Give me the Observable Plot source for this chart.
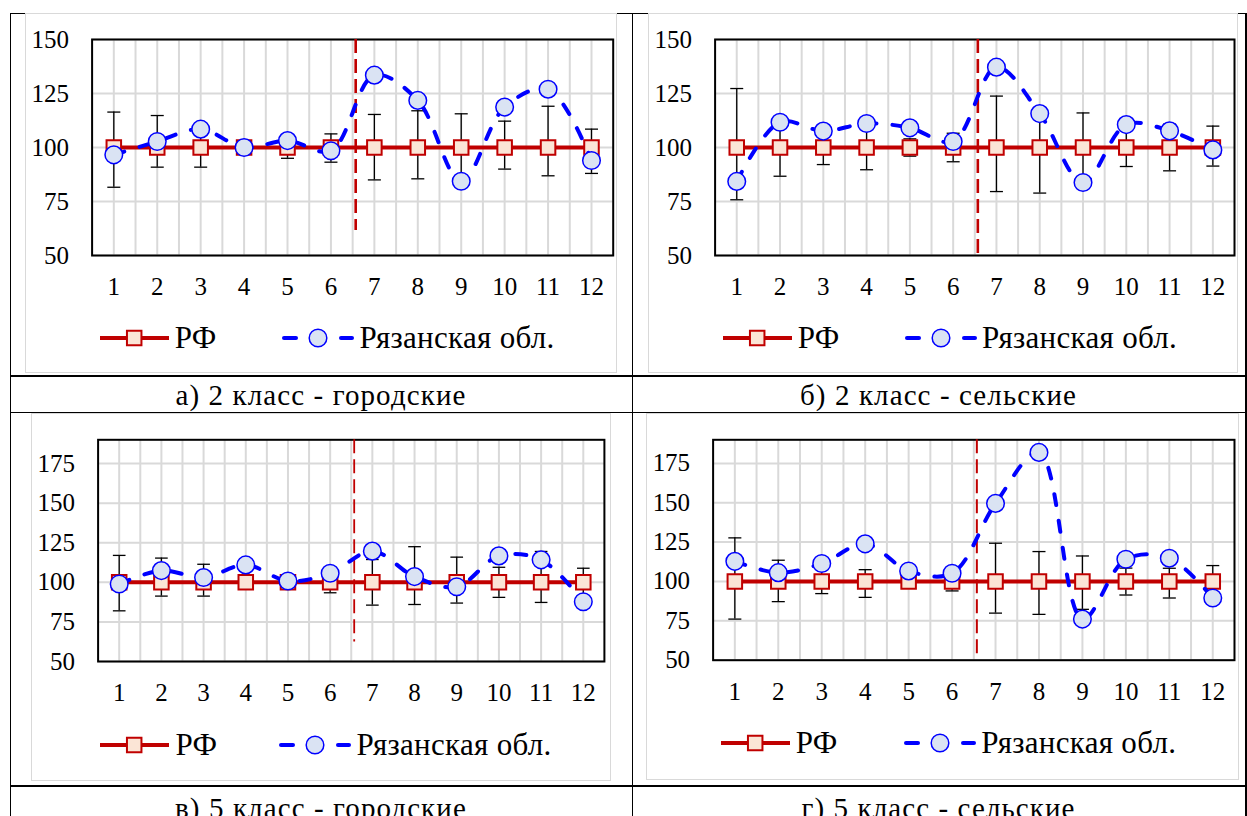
<!DOCTYPE html>
<html>
<head>
<meta charset="utf-8">
<script src="https://cdn.jsdelivr.net/npm/d3@7"></script>
<script src="https://cdn.jsdelivr.net/npm/@observablehq/plot@0.6"></script>
<style>
  body { margin: 0; background: #fff; }
  #page { position: relative; width: 1247px; height: 816px; overflow: hidden; background: #fff;
          font-family: "Liberation Serif", serif; color: #000; }
  #page * { font-family: "Liberation Serif", serif !important; }
  #page svg text { font-family: "Liberation Serif", serif !important; fill: #000; }
  .ln { position: absolute; background: #000; }
  .box { position: absolute; border: 1.5px solid #d9d9d9; box-sizing: border-box; }
  .cap { position: absolute; font-size: 29px; line-height: 29px; letter-spacing: 1.1px; text-align: center; white-space: nowrap; }
  .legtxt { position: absolute; font-size: 31px; line-height: 31px; letter-spacing: 0.3px; white-space: nowrap; }
  .sw { position: absolute; overflow: visible; }
</style>
</head>
<body>
<div id="page"></div>
<script>
// ---------- data ----------
const categories = [1, 2, 3, 4, 5, 6, 7, 8, 9, 10, 11, 12];
const rfValues   = [100, 100, 100, 100, 100, 100, 100, 100, 100, 100, 100, 100];

// а) 2 класс - городские
const regA = [96.6, 102.8, 108.5, 100, 103.2, 98.5, 133.5, 121.8, 84.4, 118.7, 127, 94];
const loA  = [81.6, 90.9, 90.9, 98, 95, 93.2, 85, 85.5, 85, 90, 86.9, 88];
const hiA  = [116.4, 114.8, 109, 102, 105, 106.3, 115.3, 117, 115.6, 112.2, 119.1, 108.5];

// б) 2 класс - сельские
const regB = [84.3, 111.7, 107.6, 111.1, 109.1, 102.8, 137.2, 115.7, 83.8, 110.6, 107.7, 98.9];
const loB  = [75.8, 86.7, 92.1, 89.7, 96, 93.4, 79.6, 78.9, 84, 91.2, 89.2, 91.4];
const hiB  = [127.3, 113.3, 108, 110.3, 104, 106.6, 123.8, 118, 116, 108.8, 110.8, 109.9];

// в) 5 класс - городские
const regC = [98.9, 107.4, 103, 111, 100.8, 105.7, 119.7, 103.6, 97.2, 116.7, 114.2, 87.7];
const loC  = [82, 91.3, 91.3, 97, 98, 93.4, 85.6, 86, 86.9, 90.5, 87.3, 91];
const hiC  = [117, 115.3, 111.4, 103, 102, 106.6, 114.4, 122.5, 115.9, 109.5, 119.5, 108.9];

// г) 5 класс - сельские
const regD = [112.8, 105.6, 111.4, 123.9, 106.7, 105.2, 149.6, 182, 76.1, 114.1, 114.8, 89.5];
const loD  = [76.1, 87.2, 92.3, 89.9, 97, 94, 79.9, 79.1, 82.3, 91.4, 89.5, 90];
const hiD  = [127.7, 113.5, 107.7, 107.5, 103, 106, 124.3, 119, 116.2, 108.5, 108.4, 110.1];

const yTicks2 = [50, 75, 100, 125, 150];
const yTicks5 = [50, 75, 100, 125, 150, 175];
const yDomain2 = [50, 150];
const yDomain5 = [50, 190];

const dividerX = 6.57;                      // position of the red dashed separator
const dividerEnd = [61.6, 50, 62.3, 54];    // lower end of the separator per panel

const captions = ["а) 2 класс - городские", "б) 2 класс - сельские", "в) 5 класс - городские", "г) 5 класс - сельские"];
const seriesNames = ["РФ", "Рязанская обл."];

// ---------- layout ----------
const page = document.getElementById("page");
function el(cls, css, html) {
  const d = document.createElement("div");
  d.className = cls;
  Object.assign(d.style, css);
  if (html != null) d.textContent = html;
  page.appendChild(d);
  return d;
}

// table borders
el("ln", {left: "10px", top: "12.5px", width: "1236px", height: "1.5px"});
el("ln", {left: "9.5px", top: "12.5px", width: "1.5px", height: "810px"});
el("ln", {left: "631.5px", top: "12.5px", width: "1.5px", height: "810px"});
el("ln", {left: "1244.5px", top: "12.5px", width: "2px", height: "810px"});
el("ln", {left: "10px", top: "375px", width: "1237px", height: "2px"});
el("ln", {left: "10px", top: "411.5px", width: "1237px", height: "1.5px"});
el("ln", {left: "10px", top: "785px", width: "1237px", height: "2px"});

const panels = [
  {box: [25, 13, 592, 360], plot: [91.6, 612.7, 39, 255], reg: regA, lo: loA, hi: hiA,
   yDomain: yDomain2, yTicks: yTicks2, divEnd: dividerEnd[0], divW: 2.6,
   cap: [10, 632, 380.7], leg: [99.6, 283, 348.3, 337.5]},
  {box: [648, 13, 590, 360], plot: [714.6, 1234, 39, 255], reg: regB, lo: loB, hi: hiB,
   yDomain: yDomain2, yTicks: yTicks2, divEnd: dividerEnd[1], divW: 2.6,
   cap: [632, 1245, 380.7], leg: [722.5, 905.5, 348.3, 337.5]},
  {box: [31, 413, 580, 368], plot: [97.6, 603.9, 439.3, 661], reg: regC, lo: loC, hi: hiC,
   yDomain: yDomain5, yTicks: yTicks5, divEnd: dividerEnd[2], divW: 1.8,
   cap: [10, 632, 793.7], leg: [100.4, 280, 755, 745]},
  {box: [646, 413, 593, 367], plot: [712.6, 1234, 439.3, 659.7], reg: regD, lo: loD, hi: hiD,
   yDomain: yDomain5, yTicks: yTicks5, divEnd: dividerEnd[3], divW: 2,
   cap: [632, 1245, 793.7], leg: [720.5, 904.7, 753.3, 743.3]}
];

const RED = "#c00000", SQFILL = "#fbe5d6", BLUE = "#0000ff", CFILL = "#dae3f3", GRID = "#d9d9d9";
const xGrid = d3.range(1, 12.01, 0.5);
const capHalf = 0.15;

panels.forEach((p, k) => {
  const [bx, by, bw, bh] = p.box;
  el("box", {left: bx + "px", top: by + "px", width: bw + "px", height: bh + "px"});

  const [pl, pr, pt, pb] = p.plot;
  const mb = 50;
  const H = pb - by + mb;
  const data = categories.map((c, i) => ({x: c, rf: rfValues[i], reg: p.reg[i], lo: p.lo[i], hi: p.hi[i]}));

  const chart = Plot.plot({
    width: bw, height: H,
    marginLeft: pl - bx, marginRight: bx + bw - pr, marginTop: pt - by, marginBottom: mb,
    style: {position: "absolute", left: bx + "px", top: by + "px", fontFamily: "Liberation Serif",
            fontSize: "25px", color: "#000", background: "transparent", overflow: "visible"},
    x: {domain: [0.5, 12.5], ticks: categories, tickSize: 0, tickPadding: 22, tickFormat: d => String(d), label: null},
    y: {domain: p.yDomain, ticks: p.yTicks, tickSize: 0, tickPadding: 23, label: null},
    marks: [
      Plot.ruleX(xGrid, {stroke: GRID, strokeWidth: 2}),
      Plot.ruleY(p.yTicks, {stroke: GRID, strokeWidth: 2}),
      Plot.frame({stroke: "#000", strokeWidth: 2}),
      Plot.ruleX([dividerX], {y1: p.yDomain[1], y2: p.divEnd, stroke: RED, strokeWidth: p.divW, strokeDasharray: "14,6"}),
      Plot.ruleX(data, {x: "x", y1: "lo", y2: "hi", stroke: "#000", strokeWidth: 1.3}),
      Plot.link(data, {x1: d => d.x - capHalf, x2: d => d.x + capHalf, y1: "lo", y2: "lo", stroke: "#000", strokeWidth: 1.3}),
      Plot.link(data, {x1: d => d.x - capHalf, x2: d => d.x + capHalf, y1: "hi", y2: "hi", stroke: "#000", strokeWidth: 1.3}),
      Plot.line(data, {x: "x", y: "rf", stroke: RED, strokeWidth: 4}),
      Plot.dot(data, {x: "x", y: "rf", symbol: "square", r: 8.2, fill: SQFILL, stroke: RED, strokeWidth: 2}),
      Plot.line(data, {x: "x", y: "reg", curve: "catmull-rom", stroke: BLUE, strokeWidth: 4,
                       strokeDasharray: "11,16", strokeLinecap: "round"}),
      Plot.dot(data, {x: "x", y: "reg", r: 8.8, fill: CFILL, stroke: BLUE, strokeWidth: 1.5})
    ]
  });
  chart.setAttribute("font-family", "Liberation Serif");
  page.appendChild(chart);

  // caption
  const [cx0, cx1, ctop] = p.cap;
  el("cap", {left: cx0 + "px", width: (cx1 - cx0) + "px", top: ctop + "px"}, captions[k]);

  // legend
  const [rx, blx, base, cy] = p.leg;
  const ns = "http://www.w3.org/2000/svg";
  function sw(x, w, inner) {
    const s = document.createElementNS(ns, "svg");
    s.setAttribute("class", "sw");
    s.setAttribute("width", w); s.setAttribute("height", 24);
    s.style.left = x + "px"; s.style.top = (cy - 12) + "px";
    s.innerHTML = inner;
    page.appendChild(s);
  }
  sw(rx, 70, `<line x1="0" y1="12" x2="69" y2="12" stroke="${RED}" stroke-width="4"/>
              <rect x="${34.2 - 7.25}" y="${12 - 7.25}" width="14.5" height="14.5" fill="${SQFILL}" stroke="${RED}" stroke-width="2"/>`);
  sw(blx, 72, `<line x1="1" y1="12" x2="13" y2="12" stroke="${BLUE}" stroke-width="4" stroke-linecap="round"/>
               <line x1="58" y1="12" x2="69" y2="12" stroke="${BLUE}" stroke-width="4" stroke-linecap="round"/>
               <circle cx="35" cy="12" r="8.8" fill="${CFILL}" stroke="${BLUE}" stroke-width="1.5"/>`);
  el("legtxt", {left: (rx + 75.2) + "px", top: (base - 26) + "px"}, seriesNames[0]);
  el("legtxt", {left: (blx + 76.6) + "px", top: (base - 26) + "px"}, seriesNames[1]);
});
</script>
</body>
</html>
